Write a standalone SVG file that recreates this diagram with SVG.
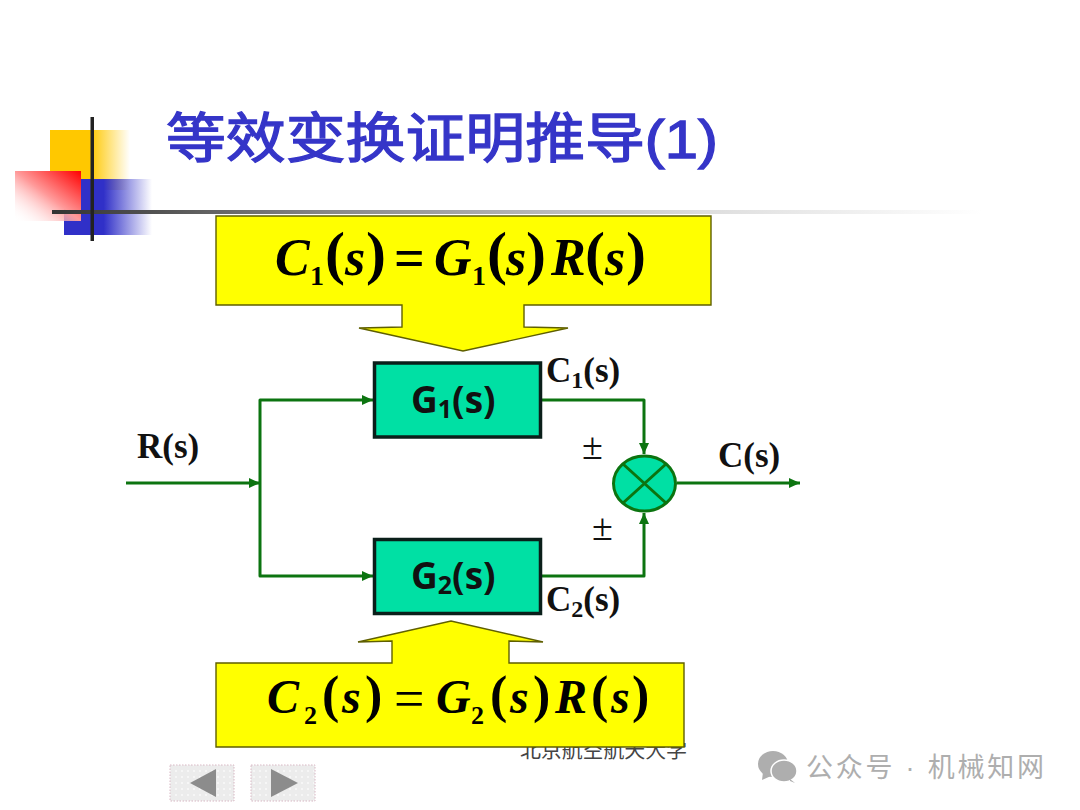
<svg xmlns="http://www.w3.org/2000/svg" width="1080" height="810" viewBox="0 0 1080 810">
<style>
.conn{fill:none;stroke:#0c7410;stroke-width:3;stroke-linejoin:round}
.callout{fill:#ffff00;stroke:#5f5f00;stroke-width:1.4}
.block{fill:#00e0a4;stroke:#0a1f1a;stroke-width:3.500}
.serif{font-family:"Liberation Serif",serif;font-weight:bold;fill:#111}
.eq{font-family:"Liberation Serif",serif;font-weight:bold;fill:#000}
.eqi{font-style:italic}
.blk{font-family:"Open Sans",sans-serif;font-weight:bold;font-size:37px;fill:#111}
.cjk{font-family:"Liberation Sans","Noto Sans CJK SC",sans-serif}
</style>
<defs>
<marker id="arr" markerUnits="userSpaceOnUse" markerWidth="13" markerHeight="12" refX="11" refY="5" orient="auto"><path d="M0 0L11 5L0 10Z" fill="#0c7410"/></marker>
<linearGradient id="gy" x1="0" x2="1" y1="0" y2="0"><stop offset="0" stop-color="#ffc800"/><stop offset="0.5" stop-color="#ffc800"/><stop offset="1" stop-color="#ffc800" stop-opacity="0"/></linearGradient>
<linearGradient id="gb" x1="0" x2="1" y1="0" y2="0"><stop offset="0" stop-color="#3030c8"/><stop offset="0.45" stop-color="#3030c8"/><stop offset="1" stop-color="#3030c8" stop-opacity="0"/></linearGradient>
<linearGradient id="gr" x1="1" x2="0" y1="0" y2="1"><stop offset="0" stop-color="#ff0000"/><stop offset="0.5" stop-color="#ff9a9a"/><stop offset="1" stop-color="#ffffff" stop-opacity="0"/></linearGradient>
<linearGradient id="gl" x1="0" x2="1" y1="0" y2="0"><stop offset="0" stop-color="#333"/><stop offset="0.3" stop-color="#888"/><stop offset="0.7" stop-color="#ddd"/><stop offset="1" stop-color="#fff"/></linearGradient>
<pattern id="paper" width="6" height="6" patternUnits="userSpaceOnUse"><rect width="6" height="6" fill="#ececec"/><rect x="1" y="2" width="2" height="2" fill="#f6f6f6"/></pattern>
</defs>
<rect width="1080" height="810" fill="#fff"/>
<g id="decor">
<rect x="50" y="130" width="80" height="60" fill="url(#gy)"/>
<rect x="64" y="179" width="88" height="56" fill="url(#gb)"/>
<rect x="15" y="171" width="66" height="50" fill="url(#gr)"/>
<rect x="52" y="210" width="930" height="4" fill="url(#gl)"/>
<rect x="90.500" y="117" width="3.500" height="124" fill="#222"/>
</g>
<text id="title" class="cjk" x="166" y="158" font-size="54" stroke="#3535c8" stroke-width="1.300" fill="#3535c8" textLength="552" lengthAdjust="spacingAndGlyphs">等效变换证明推导(1)</text>
<text id="footer" class="cjk" x="520" y="757" font-size="21" fill="#444" textLength="167">北京航空航天大学</text>
<g id="callout-top">
<path class="callout" d="M216 216H711V305H524V327L568 328L463 351L359 328L402 327V305H216Z"/>
<text class="eq" y="275" font-size="52"><tspan class="eqi" x="275">C</tspan><tspan font-size="28" x="310" y="285">1</tspan><tspan x="325" y="273" font-size="60">(</tspan><tspan class="eqi" x="345" y="275">s</tspan><tspan x="366" y="273" font-size="60">)</tspan><tspan x="394" y="276" font-size="54">=</tspan><tspan class="eqi" x="434" y="275">G</tspan><tspan font-size="28" x="472" y="285">1</tspan><tspan x="487" y="273" font-size="60">(</tspan><tspan class="eqi" x="506" y="275">s</tspan><tspan x="526" y="273" font-size="60">)</tspan><tspan class="eqi" x="551" y="275">R</tspan><tspan x="585" y="273" font-size="60">(</tspan><tspan class="eqi" x="605" y="275">s</tspan><tspan x="626" y="273" font-size="60">)</tspan></text>
</g>
<g id="callout-bottom">
<path class="callout" d="M216 663H392V641L358 642L451 621L543 642L509 641V663H684V747H216Z"/>
<text class="eq" y="713" font-size="48"><tspan class="eqi" x="267">C</tspan><tspan font-size="26" x="304" y="724">2</tspan><tspan x="322" y="712" font-size="52">(</tspan><tspan class="eqi" x="342" y="713">s</tspan><tspan x="365" y="712" font-size="52">)</tspan><tspan x="394" y="717" font-size="54" font-weight="normal">=</tspan><tspan class="eqi" x="436" y="713">G</tspan><tspan font-size="26" x="471" y="724">2</tspan><tspan x="490" y="712" font-size="52">(</tspan><tspan class="eqi" x="510" y="713">s</tspan><tspan x="533" y="712" font-size="52">)</tspan><tspan class="eqi" x="555" y="713">R</tspan><tspan x="591" y="712" font-size="52">(</tspan><tspan class="eqi" x="611" y="713">s</tspan><tspan x="632" y="712" font-size="52">)</tspan></text>
</g>
<g id="connectors">
<path class="conn" d="M126 483H260" marker-end="url(#arr)"/>
<path class="conn" d="M260 483V400H373" marker-end="url(#arr)"/>
<path class="conn" d="M260 483V576H373" marker-end="url(#arr)"/>
<path class="conn" d="M541 400H644V454" marker-end="url(#arr)"/>
<path class="conn" d="M541 576H644V513" marker-end="url(#arr)"/>
<path class="conn" d="M677 483H800" marker-end="url(#arr)"/>
</g>
<g id="g1"><rect class="block" x="374.500" y="363" width="166" height="74"/>
<text class="blk" x="411" y="413">G<tspan font-size="25" dy="5">1</tspan><tspan dy="-5">(s)</tspan></text></g>
<g id="g2"><rect class="block" x="374.500" y="539.500" width="166" height="74"/>
<text class="blk" x="411" y="589">G<tspan font-size="25" dy="5">2</tspan><tspan dy="-5">(s)</tspan></text></g>
<g id="sum"><ellipse cx="644.500" cy="483.500" rx="31" ry="27.500" fill="#00e0a4" stroke="#0c7410" stroke-width="3"/>
<path d="M623 464L666 503M666 464L623 503" stroke="#0c7410" stroke-width="3" fill="none"/></g>
<g id="labels">
<text class="serif" x="137" y="458" font-size="35">R(s)</text>
<text class="serif" x="546" y="382" font-size="35">C<tspan font-size="24" dy="6">1</tspan><tspan dy="-6">(s)</tspan></text>
<text class="serif" x="546" y="611" font-size="35">C<tspan font-size="24" dy="6">2</tspan><tspan dy="-6">(s)</tspan></text>
<text class="serif" x="718" y="467" font-size="35">C(s)</text>
<text x="582" y="459" font-family="Liberation Serif,serif" fill="#111" font-size="38">±</text>
<text x="592" y="540" font-family="Liberation Serif,serif" fill="#111" font-size="38">±</text>
</g>
<g id="nav">
<rect x="170" y="765" width="64" height="36" fill="url(#paper)" stroke="#d8b8c4" stroke-dasharray="1.500 1.500"/>
<path d="M190 783L216 769V797Z" fill="#8c8c8c"/>
<rect x="251" y="765" width="64" height="36" fill="url(#paper)" stroke="#d8b8c4" stroke-dasharray="1.500 1.500"/>
<path d="M298 783L271 769V797Z" fill="#8c8c8c"/>
</g>
<g id="watermark" fill="#aeaeae">
<ellipse cx="773" cy="764" rx="15" ry="13"/><path d="M763 772L762 780L771 776Z"/>
<ellipse cx="784" cy="771" rx="13" ry="11" stroke="#fff" stroke-width="1.500"/><path d="M790 779L795 783L790 781Z"/>
<text class="cjk" x="806" y="777" font-size="27" textLength="238">公众号 · 机械知网</text>
</g>
</svg>
